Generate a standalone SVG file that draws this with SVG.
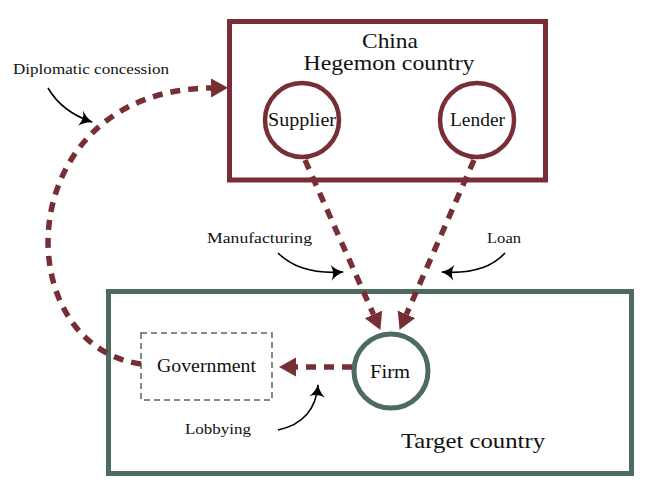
<svg xmlns="http://www.w3.org/2000/svg" width="650" height="486" viewBox="0 0 650 486">
<style>
.t{font-family:"Liberation Serif","Times New Roman",serif;fill:#111;text-anchor:middle}
.mar{fill:none;stroke:#772f35}
.grn{fill:none;stroke:#4d6a63}
.flow{fill:none;stroke:#772f35;stroke-width:5.5;stroke-dasharray:10 8}
.ann{fill:none;stroke:#000;stroke-width:1.6}
</style>
<defs>
<marker id="ah" viewBox="0 -10 20 20" refX="0" refY="0" markerWidth="20" markerHeight="20" markerUnits="userSpaceOnUse" orient="auto">
<path d="M0,-9.5 L17,0 L0,9.5 z" fill="#772f35"/>
</marker>
<marker id="bh" viewBox="-2 -9 16 18" refX="11" refY="0" markerWidth="16" markerHeight="18" markerUnits="userSpaceOnUse" orient="auto">
<path d="M-1,-8 Q4,-2 12,0 Q4,2 -1,8 Q3,0 -1,-8 z" fill="#000"/>
</marker>
</defs>
<rect width="650" height="486" fill="#fff"/>
<g id="china">
<rect class="mar" x="229.5" y="21.5" width="316" height="158.5" stroke-width="5"/>
<text class="t" x="390" y="48" font-size="21" textLength="56" lengthAdjust="spacingAndGlyphs">China</text>
<text class="t" x="389" y="70" font-size="21" textLength="171" lengthAdjust="spacingAndGlyphs">Hegemon country</text>
</g>
<g id="supplier">
<circle class="mar" cx="302" cy="120" r="37" stroke-width="4.5"/>
<text class="t" x="302" y="126" font-size="18" textLength="68" lengthAdjust="spacingAndGlyphs">Supplier</text>
</g>
<g id="lender">
<circle class="mar" cx="477" cy="120" r="37" stroke-width="4.5"/>
<text class="t" x="477.5" y="126" font-size="18" textLength="55" lengthAdjust="spacingAndGlyphs">Lender</text>
</g>
<g id="target">
<rect class="grn" x="108.5" y="291.5" width="523" height="182" stroke-width="5"/>
<text class="t" x="473" y="448" font-size="21" textLength="144" lengthAdjust="spacingAndGlyphs">Target country</text>
</g>
<g id="government">
<rect class="grn" x="141" y="333" width="131" height="67" stroke-width="1.5" stroke-dasharray="6 4"/>
<text class="t" x="206.5" y="372" font-size="18" textLength="99" lengthAdjust="spacingAndGlyphs">Government</text>
</g>
<g id="firm">
<circle class="grn" cx="391" cy="371" r="37" stroke-width="5"/>
<text class="t" x="390" y="378" font-size="18" textLength="40" lengthAdjust="spacingAndGlyphs">Firm</text>
</g>
<g id="connectors">
<path class="flow" d="M305,160 L373.5,314.4" marker-end="url(#ah)"/>
<path class="flow" d="M474,160 L406.4,314.3" marker-end="url(#ah)"/>
<path class="flow" d="M352,367 L296,367" marker-end="url(#ah)"/>
<path class="flow" d="M141,364 C5,345 10,90 211,88" marker-end="url(#ah)"/>
</g>
<g id="annotations">
<path class="ann" d="M48,88 Q62,112 92,122" marker-end="url(#bh)"/>
<path class="ann" d="M278,253 Q300,275 343,272" marker-end="url(#bh)"/>
<path class="ann" d="M505,253 Q485,275 442,272" marker-end="url(#bh)"/>
<path class="ann" d="M278,430 Q315,422 318,385" marker-end="url(#bh)"/>
<text class="t" x="91" y="74" font-size="15" textLength="156" lengthAdjust="spacingAndGlyphs">Diplomatic concession</text>
<text class="t" x="259.5" y="243" font-size="15" textLength="105" lengthAdjust="spacingAndGlyphs">Manufacturing</text>
<text class="t" x="504" y="243" font-size="15" textLength="34" lengthAdjust="spacingAndGlyphs">Loan</text>
<text class="t" x="218" y="434" font-size="15" textLength="66" lengthAdjust="spacingAndGlyphs">Lobbying</text>
</g>
</svg>
